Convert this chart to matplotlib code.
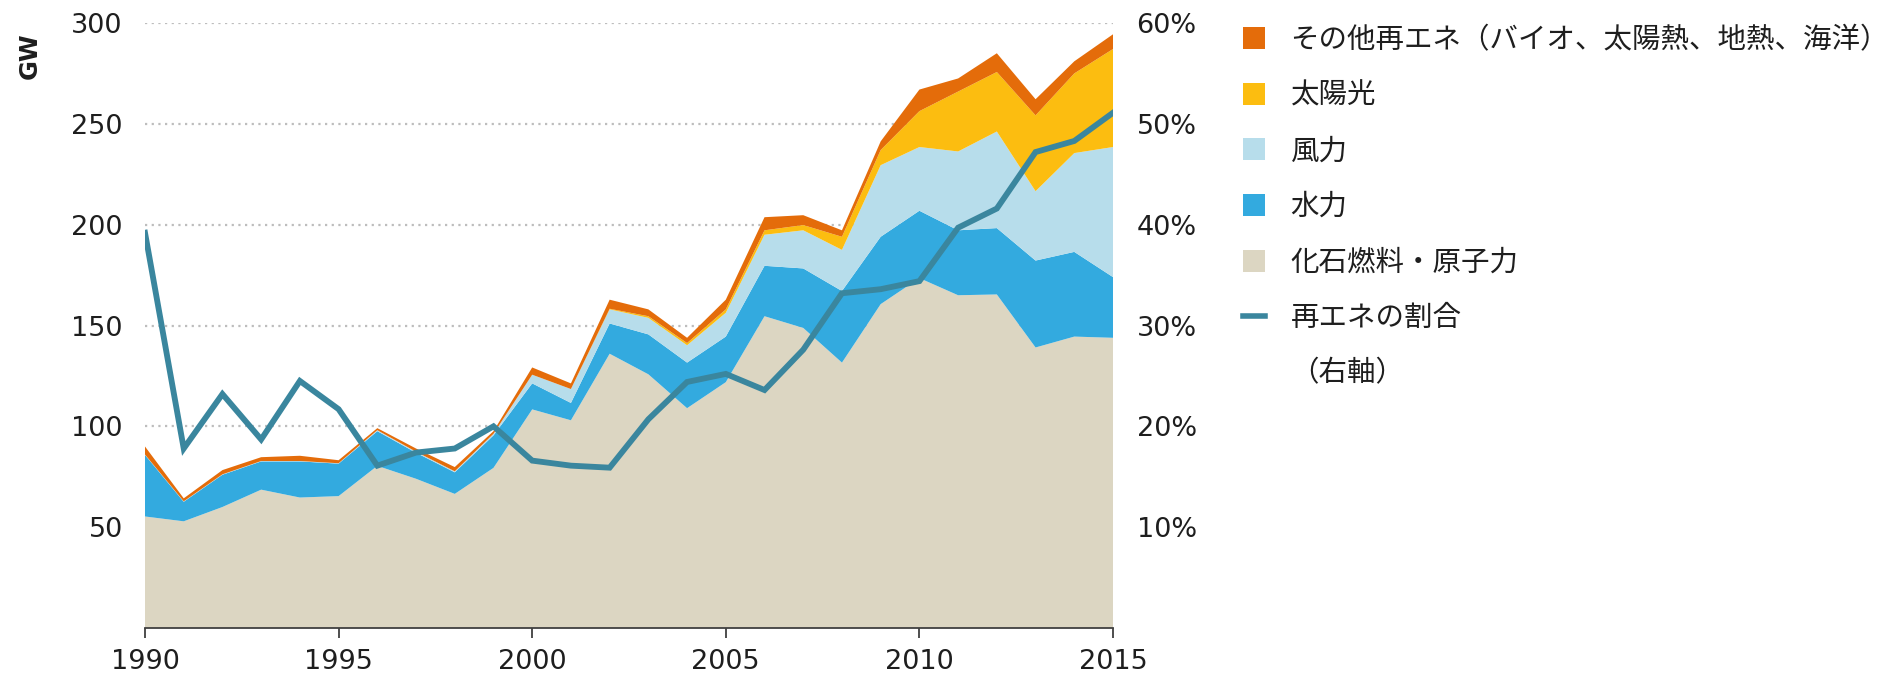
import matplotlib
matplotlib.use('Agg')
import matplotlib.pyplot as plt
from matplotlib.patches import Patch
from matplotlib.lines import Line2D

# datos (GW y %)
años = list(range(1990, 2016))
fosil = [55.3, 52.9, 60.0, 68.6, 64.7, 65.4, 80.4, 74.0, 66.5, 79.4, 108.4, 103.0, 136.0,
         125.8, 109.0, 121.9, 154.6, 148.8, 131.6, 160.6, 173.5, 165.0, 165.4, 139.1, 144.5, 143.9]
hidro = [30.5, 9.7, 16.0, 14.0, 17.9, 16.1, 17.2, 12.9, 10.7, 16.1, 12.9, 8.6, 15.0,
         19.8, 22.6, 22.6, 25.0, 29.5, 35.5, 33.4, 33.4, 32.2, 32.9, 43.1, 42.0, 30.1]
viento = [0.2, 0.2, 0.2, 0.2, 0.2, 0.2, 0.5, 0.5, 0.5, 0.8, 4.3, 6.9, 7.0,
          8.2, 8.6, 11.8, 15.4, 18.9, 20.4, 35.5, 31.6, 39.1, 47.9, 34.4, 49.0, 64.5]
solar = [0, 0, 0, 0, 0, 0, 0, 0, 0, 0, 0, 0, 0.3,
         0.8, 1.1, 1.7, 2.2, 2.6, 6.5, 7.5, 17.8, 29.7, 29.5, 37.6, 39.5, 48.6]
otros = [4.0, 1.5, 2.1, 1.9, 2.6, 1.5, 1.0, 1.6, 2.1, 1.3, 3.6, 2.8, 4.5,
         3.4, 2.6, 4.8, 6.5, 4.9, 3.2, 4.3, 10.7, 6.5, 9.3, 8.0, 6.0, 7.3]
porcentaje = [39.2, 17.8, 23.2, 18.7, 24.5, 21.7, 16.1, 17.4, 17.8, 20.0, 16.6, 16.1, 15.9,
              20.7, 24.4, 25.2, 23.6, 27.6, 33.2, 33.6, 34.4, 39.7, 41.6, 47.2, 48.3, 51.1]

etiquetas = ['その他再エネ（バイオ、太陽熱、地熱、海洋）', '太陽光', '風力', '水力', '化石燃料・原子力']
colores = ['#E46C0A', '#FCBD10', '#B7DDEB', '#33AADF', '#DCD6C2']
color_linea = '#3A869E'
yticks_gw = [50, 100, 150, 200, 250, 300]
yticks_pct = [10, 20, 30, 40, 50, 60]
xticks = [1990, 1995, 2000, 2005, 2010, 2015]

plt.rcParams['font.family'] = ['Noto Sans CJK JP', 'DejaVu Sans']
texto = '#1E1E1E'

fig = plt.figure(figsize=(18.96, 6.8), dpi=100)
ax = fig.add_axes([145 / 1896, 52 / 680, 968 / 1896, 605 / 680])

ax.stackplot(años, fosil, hidro, viento, solar, otros,
             colors=colores[::-1], linewidth=0)
ax.set_xlim(1990, 2015)
ax.set_ylim(0, 300)
ax.set_axisbelow(True)
ax.yaxis.grid(True, linestyle=(0, (1, 2)), color='#BDBDBD', linewidth=1.6)
ax.set_xticks(xticks)
ax.set_yticks(yticks_gw)
for s in ['top', 'left', 'right']:
    ax.spines[s].set_visible(False)
ax.spines['bottom'].set_color('#404040')
ax.spines['bottom'].set_linewidth(1.3)
ax.tick_params(axis='x', direction='out', length=7, width=1.3, color='#404040', pad=8,
               labelsize=19.5, labelcolor=texto)
ax.tick_params(axis='y', length=0, pad=16, labelsize=19.5, labelcolor=texto)
for lab in ax.get_xticklabels() + ax.get_yticklabels():
    lab.set_family('DejaVu Sans')

ax2 = ax.twinx()
ax2.plot(años, porcentaje, color=color_linea, linewidth=4.2, solid_joinstyle='miter')
ax2.set_ylim(0, 60)
ax2.set_yticks(yticks_pct)
ax2.set_yticklabels([f'{v}%' for v in yticks_pct])
for s in ['top', 'left', 'right', 'bottom']:
    ax2.spines[s].set_visible(False)
ax2.tick_params(axis='y', length=0, pad=17, labelsize=19.5, labelcolor=texto)
for lab in ax2.get_yticklabels():
    lab.set_family('DejaVu Sans')

fig.text(30 / 1896, 1 - 56 / 680, 'GW', rotation=90, ha='center', va='center',
         fontsize=17.5, fontweight='bold', color=texto, family='DejaVu Sans')

# leyenda
handles = [Patch(facecolor=c, edgecolor='none') for c in colores]
handles.append(Line2D([], [], color=color_linea, linewidth=4))
handles.append(Line2D([], [], color='none'))
labels = etiquetas + ['再エネの割合', '（右軸）']
fig.legend(handles, labels, loc='upper left', bbox_to_anchor=(1243 / 1896, 1 - 25 / 680),
           frameon=False, fontsize=20.5, borderpad=0, borderaxespad=0,
           handlelength=0.77, handleheight=0.82, handletextpad=0.9, labelspacing=0.9,
           labelcolor=texto)

plt.savefig('out.png', dpi=100)
